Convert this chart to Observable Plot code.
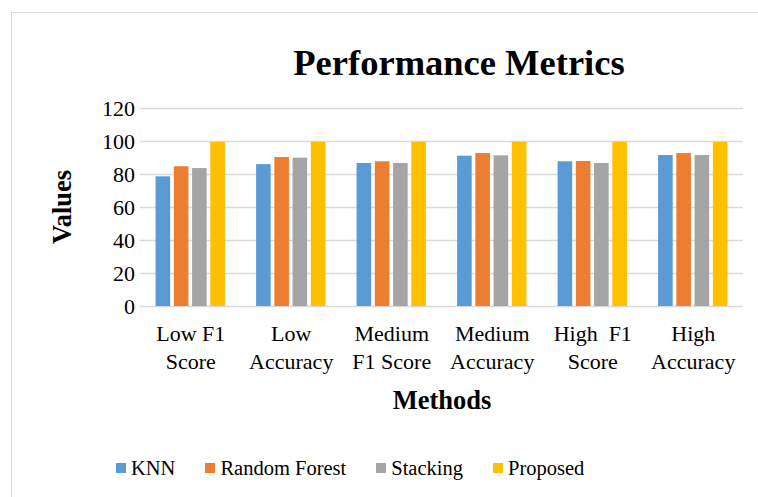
<!DOCTYPE html>
<html>
<head>
<meta charset="utf-8">
<script src="https://cdn.jsdelivr.net/npm/d3@7"></script>
<script src="https://cdn.jsdelivr.net/npm/@observablehq/plot@0.6"></script>
<style>
  html, body { margin: 0; padding: 0; background: #fff; }
  #wrap { position: relative; width: 758px; height: 497px; overflow: hidden; font-family: "Liberation Serif", "Times New Roman", serif; color: #000; }
  #border { position: absolute; left: 11px; top: 12px; width: 780px; height: 520px; border: 1px solid #d9d9d9; box-sizing: border-box; }
  #grid, #chart { position: absolute; left: 0; top: 0; }
  .title { position: absolute; left: 459px; top: 45px; transform: translateX(-50%); font-size: 36.5px; font-weight: bold; line-height: 1; white-space: nowrap; }
  .xlabel { position: absolute; left: 442px; top: 387px; transform: translateX(-50%); font-size: 26.5px; font-weight: bold; line-height: 1; white-space: nowrap; }
  .ylabel { position: absolute; left: 62px; top: 207px; transform: translate(-50%, -50%) rotate(-90deg); font-size: 26.5px; font-weight: bold; line-height: 1; white-space: nowrap; }
  #legend { position: absolute; left: 116px; top: 458px; display: flex; gap: 30px; font-size: 20.5px; line-height: 1; }
  .item { display: flex; align-items: center; gap: 5px; white-space: nowrap; }
  .sw { width: 10px; height: 10px; display: inline-block; }
</style>
</head>
<body>
<div id="wrap">
  <div id="border"></div>
  <div id="grid"></div>
  <div id="chart"></div>
  <div class="title">Performance Metrics</div>
  <div class="ylabel">Values</div>
  <div class="xlabel">Methods</div>
  <div id="legend"></div>
</div>
<script>
const categories = ["Low F1 Score", "Low Accuracy", "Medium F1 Score", "Medium Accuracy", "High F1 Score", "High Accuracy"];
const categoryLabels = ["Low F1\nScore", "Low\nAccuracy", "Medium\nF1 Score", "Medium\nAccuracy", "High  F1\nScore", "High\nAccuracy"];
const series = ["KNN", "Random Forest", "Stacking", "Proposed"];
const knn = [78.6, 86.0, 86.7, 91.1, 87.7, 91.5];
const randomForest = [84.7, 90.3, 87.7, 92.7, 87.9, 92.7];
const stacking = [83.6, 89.9, 86.7, 91.3, 86.7, 91.5];
const proposed = [99.5, 99.5, 99.5, 99.5, 99.5, 99.5];
const colors = ["#5b9bd5", "#ed7d31", "#a5a5a5", "#ffc000"];
const yTicks = [0, 20, 40, 60, 80, 100, 120];

const seriesValues = [knn, randomForest, stacking, proposed];
const data = [];
categories.forEach((c, i) => {
  series.forEach((s, j) => data.push({category: c, series: s, value: seriesValues[j][i]}));
});

const common = {
  width: 758,
  height: 497,
  marginTop: 108,
  marginBottom: 191,
  marginLeft: 140,
  marginRight: 15,
  style: {fontFamily: "'Liberation Serif', 'Times New Roman', serif", color: "#000", background: "transparent", overflow: "visible"},
  y: {domain: [0, 120], label: null}
};

// Gridlines across the whole plot area (non-faceted)
const grid = Plot.plot({
  ...common,
  marks: [
    Plot.ruleY(yTicks, {stroke: "#d9d9d9", strokeWidth: 1.5})
  ],
  y: {domain: [0, 120], axis: null}
});
document.getElementById("grid").appendChild(grid);

const chart = Plot.plot({
  ...common,
  fx: {domain: categories, paddingInner: 0.31, paddingOuter: 0.155, round: false, label: null},
  x: {domain: series, paddingInner: 0.2, paddingOuter: 0, round: false, axis: null},
  color: {domain: series, range: colors},
  marks: [
    Plot.barY(data, {fx: "category", x: "series", y: "value", fill: "series"}),
    Plot.axisY({ticks: yTicks, tickSize: 0, tickPadding: 21, fontSize: 22, label: null}),
    Plot.axisFx({anchor: "bottom", tickSize: 0, tickPadding: 15, fontSize: 22, lineHeight: 1.27, label: null,
      tickFormat: d => categoryLabels[categories.indexOf(d)]})
  ]
});
document.getElementById("chart").appendChild(chart);

const legend = document.getElementById("legend");
series.forEach((s, i) => {
  const item = document.createElement("div");
  item.className = "item";
  const sw = document.createElement("span");
  sw.className = "sw";
  sw.style.background = colors[i];
  const t = document.createElement("span");
  t.textContent = s;
  item.appendChild(sw);
  item.appendChild(t);
  legend.appendChild(item);
});
</script>
</body>
</html>
